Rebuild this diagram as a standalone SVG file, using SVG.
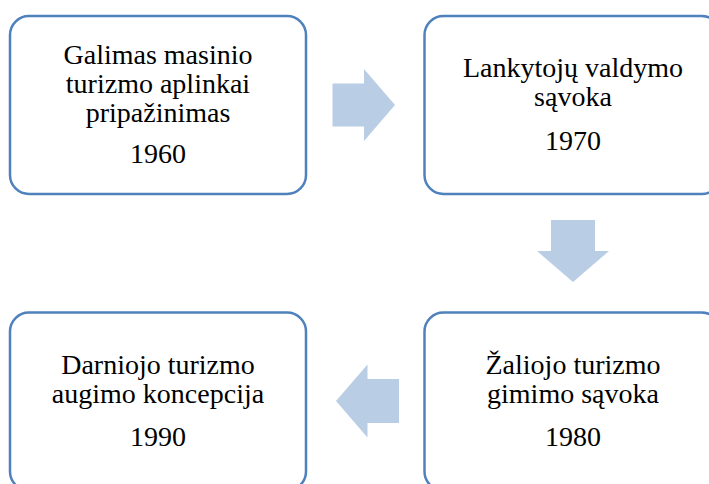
<svg xmlns="http://www.w3.org/2000/svg" width="709" height="484" viewBox="0 0 709 484">
<style>
.box{fill:#fff;stroke:#4f81bd;stroke-width:2.5}
.arr{fill:#b9cde5}
text{font-family:"Liberation Serif","Times New Roman",serif;font-size:28px;fill:#000;text-anchor:middle}
</style>
<rect width="709" height="484" fill="#fff"/>
<g id="n1960">
<rect class="box" x="10" y="16" width="296" height="178" rx="19"/>
<text x="158" y="64">Galimas masinio</text>
<text x="158" y="93">turizmo aplinkai</text>
<text x="158" y="121.5">pripažinimas</text>
<text x="158" y="163">1960</text>
</g>
<g id="n1970">
<rect class="box" x="424.5" y="16" width="296" height="178" rx="19"/>
<text x="573" y="77">Lankytojų valdymo</text>
<text x="573" y="105.5">sąvoka</text>
<text x="573" y="150">1970</text>
</g>
<g id="n1980">
<rect class="box" x="424.5" y="312.5" width="296" height="178" rx="19"/>
<text x="573" y="374">Žaliojo turizmo</text>
<text x="573" y="402.5">gimimo sąvoka</text>
<text x="573" y="446">1980</text>
</g>
<g id="n1990">
<rect class="box" x="10" y="312.5" width="296" height="178" rx="19"/>
<text x="158" y="374">Darniojo turizmo</text>
<text x="158" y="402.5">augimo koncepcija</text>
<text x="158" y="446">1990</text>
</g>
<g id="connectors">
<polygon class="arr" points="332.5,83.5 364,83.5 364,69 395,105 364,141 364,126.5 332.5,126.5"/>
<polygon class="arr" points="551,220 595,220 595,251 609,251 573,282 537,251 551,251"/>
<polygon class="arr" points="399,379 367.5,379 367.5,364.5 336,401 367.5,437.5 367.5,423 399,423"/>
</g>
</svg>
